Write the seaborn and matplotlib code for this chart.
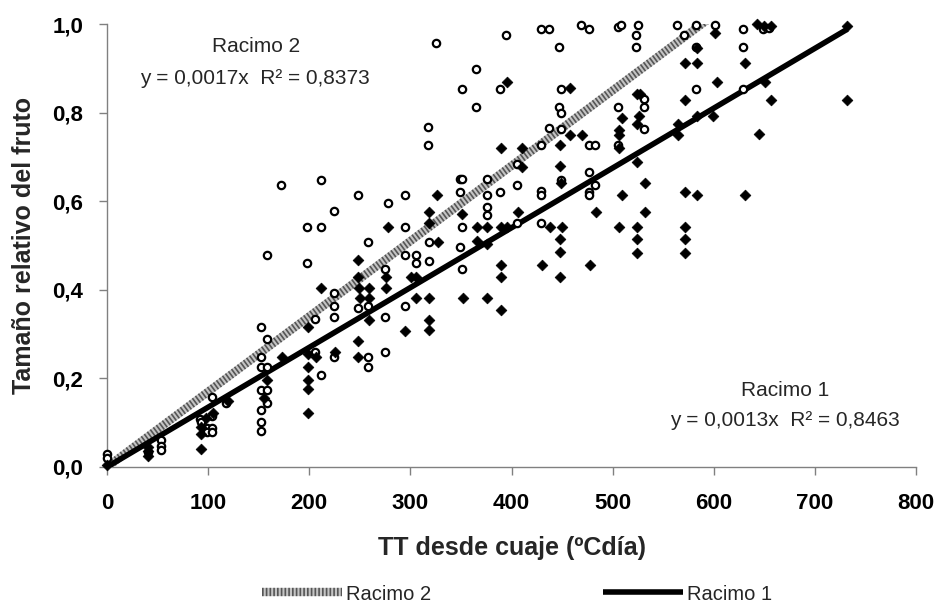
import numpy as np
import pandas as pd
import seaborn as sns
import matplotlib
matplotlib.use("Agg")
import matplotlib.pyplot as plt
from matplotlib.lines import Line2D
from matplotlib.legend_handler import HandlerTuple

# ---------------- data ----------------
# Racimo 2 (open circles)
r2_x = [0, 0,
        41, 53, 53, 53,
        92, 93, 99, 104, 99, 104, 104, 104, 118,
        152, 158, 152, 152, 158, 152, 158, 158, 152, 152, 152, 158,
        172, 212, 224, 198, 212, 198, 224, 224, 224, 206, 206, 224, 212,
        248, 295, 278, 295, 258, 318, 275, 295, 306, 306, 318, 248, 258, 295, 275, 258, 258, 275, 317, 317, 325,
        395, 429, 437, 469, 477, 505, 508, 525, 523, 523, 447, 564, 582, 571, 582, 601, 629, 629,
        365, 351, 389, 365, 449, 447, 449, 437, 449, 429, 477, 483, 505, 505, 531, 531, 531,
        405, 349, 351, 376, 349, 376, 389, 405, 429, 429, 449, 477, 477, 477, 483, 582, 629,
        376, 376, 351, 405, 429, 349, 351,
        649, 655]
r2_y = [0.030, 0.020,
        0.034, 0.061, 0.048, 0.038,
        0.108, 0.102, 0.088, 0.088, 0.078, 0.078, 0.115, 0.157, 0.144,
        0.315, 0.288, 0.248, 0.225, 0.225, 0.174, 0.174, 0.144, 0.128, 0.102, 0.081, 0.478,
        0.636, 0.648, 0.577, 0.541, 0.541, 0.460, 0.392, 0.363, 0.338, 0.333, 0.260, 0.248, 0.208,
        0.613, 0.613, 0.595, 0.541, 0.509, 0.509, 0.446, 0.478, 0.478, 0.460, 0.465, 0.360, 0.364, 0.364, 0.338, 0.248, 0.225, 0.260, 0.767, 0.727, 0.956,
        0.975, 0.988, 0.988, 0.998, 0.988, 0.993, 0.998, 0.998, 0.975, 0.948, 0.947, 0.998, 0.998, 0.975, 0.948, 0.998, 0.988, 0.948,
        0.898, 0.853, 0.853, 0.812, 0.853, 0.812, 0.798, 0.766, 0.764, 0.726, 0.726, 0.726, 0.812, 0.726, 0.830, 0.812, 0.762,
        0.685, 0.649, 0.649, 0.649, 0.621, 0.614, 0.621, 0.637, 0.623, 0.614, 0.648, 0.665, 0.621, 0.614, 0.637, 0.853, 0.853,
        0.586, 0.569, 0.541, 0.550, 0.550, 0.496, 0.446,
        0.988, 0.990]

# Racimo 1 (filled diamonds)
r1_x = [0,
        41, 41, 41,
        105, 93, 93, 93, 98, 120,
        155, 158,
        173,
        199, 199, 207, 199, 199, 199, 199, 225,
        212, 248, 248, 249, 259, 250, 259, 259, 248, 248,
        278, 318, 318, 276, 301, 306, 276, 306, 318, 318, 318, 295,
        583, 572, 583, 601, 631, 643, 396, 458, 458, 470, 390, 410, 448, 506, 506, 506, 509, 524, 527, 526, 524,
        410, 448, 524, 326, 449, 532, 509, 572, 583, 631, 603, 572, 565, 565, 583, 599, 645,
        351, 406, 484, 532, 366, 376, 390, 396, 438, 450, 506, 524, 572, 327, 366, 376, 448, 448, 524, 524, 572, 572,
        390, 390, 430, 478, 448, 352, 376, 390,
        650, 657, 651, 657, 732, 732]
r1_y = [0.005,
        0.046, 0.035, 0.024,
        0.121, 0.091, 0.074, 0.040, 0.110, 0.148,
        0.155, 0.196,
        0.249,
        0.316, 0.256, 0.249, 0.226, 0.196, 0.176, 0.123, 0.260,
        0.403, 0.467, 0.430, 0.403, 0.403, 0.381, 0.381, 0.332, 0.285, 0.249,
        0.541, 0.575, 0.550, 0.430, 0.430, 0.430, 0.403, 0.381, 0.381, 0.332, 0.310, 0.308,
        0.945, 0.913, 0.913, 0.980, 0.913, 1.000, 0.868, 0.855, 0.749, 0.750, 0.721, 0.721, 0.726, 0.720, 0.761, 0.750, 0.788, 0.842, 0.842, 0.792, 0.774,
        0.678, 0.679, 0.689, 0.614, 0.642, 0.642, 0.614, 0.621, 0.614, 0.614, 0.868, 0.828, 0.774, 0.750, 0.793, 0.793, 0.751,
        0.572, 0.575, 0.575, 0.575, 0.542, 0.542, 0.542, 0.542, 0.542, 0.542, 0.542, 0.542, 0.542, 0.507, 0.510, 0.504, 0.515, 0.486, 0.514, 0.484, 0.514, 0.484,
        0.457, 0.430, 0.457, 0.457, 0.430, 0.381, 0.381, 0.354,
        0.995, 0.995, 0.868, 0.828, 0.995, 0.828]

# trend lines (y = slope * x) and their x extents
slope_r2 = 0.0017
slope_r1 = 0.00135
trend_r2_x = [0, 600]
trend_r1_x = [0, 732]

x_ticks = [0, 100, 200, 300, 400, 500, 600, 700, 800]
y_ticks = [0.0, 0.2, 0.4, 0.6, 0.8, 1.0]
y_tick_labels = ["0,0", "0,2", "0,4", "0,6", "0,8", "1,0"]

label_r2 = "Racimo 2"
label_r1 = "Racimo 1"
eq_r2 = "y = 0,0017x  R² = 0,8373"
eq_r1 = "y = 0,0013x  R² = 0,8463"
x_title = "TT desde cuaje (ºCdía)"
y_title = "Tamaño relativo del fruto"

# ---------------- style ----------------
sns.set_style("ticks")
plt.rcParams["font.family"] = ["Liberation Sans", "DejaVu Sans"]

W, H = 940, 603
fig = plt.figure(figsize=(W / 100, H / 100), dpi=100)
ax_left, ax_right, ax_top, ax_bottom = 107, 916, 24, 467
ax = fig.add_axes([ax_left / W, 1 - ax_bottom / H,
                   (ax_right - ax_left) / W, (ax_bottom - ax_top) / H])

df_r2 = pd.DataFrame({"x": r2_x, "y": r2_y})
df_r1 = pd.DataFrame({"x": r1_x, "y": r1_y})
t_r2 = pd.DataFrame({"x": trend_r2_x, "y": slope_r2 * np.array(trend_r2_x)})
t_r1 = pd.DataFrame({"x": trend_r1_x, "y": slope_r1 * np.array(trend_r1_x)})

HATCH_BASE = "#c4c4c4"
HATCH_DASH = "#555555"

# scatter points
sns.scatterplot(data=df_r2, x="x", y="y", marker="o", s=28, color="white",
                edgecolor="black", linewidth=1.6, ax=ax, clip_on=False, zorder=4)
sns.scatterplot(data=df_r1, x="x", y="y", marker="D", s=30, color="black",
                edgecolor="black", linewidth=0.5, ax=ax, clip_on=False, zorder=4)

# trend lines
sns.lineplot(data=t_r2, x="x", y="y", color=HATCH_BASE, linewidth=6,
             solid_capstyle="butt", ax=ax, zorder=3)
ax.plot(t_r2["x"], t_r2["y"], color=HATCH_DASH, linewidth=6,
        dashes=(0.2, 0.25), dash_capstyle="butt", zorder=3.1)
sns.lineplot(data=t_r1, x="x", y="y", color="black", linewidth=4,
             solid_capstyle="butt", ax=ax, zorder=3.2)

# axes
ax.set_xlim(0, 800)
ax.set_ylim(0, 1.0)
ax.set_xticks(x_ticks)
ax.set_xticklabels([str(t) for t in x_ticks])
ax.set_yticks(y_ticks)
ax.set_yticklabels(y_tick_labels)
for side in ["top", "right"]:
    ax.spines[side].set_visible(False)
for side in ["left", "bottom"]:
    ax.spines[side].set_color("#808080")
    ax.spines[side].set_linewidth(1.0)
ax.tick_params(axis="both", direction="out", length=6, width=1.0,
               color="#808080", labelsize=16, pad=11, labelcolor="black")
ax.tick_params(axis="x", pad=13)
for lab in ax.get_xticklabels() + ax.get_yticklabels():
    lab.set_fontweight("bold")

ax.set_xlabel(x_title, fontsize=18, fontweight="bold")
ax.set_ylabel(y_title, fontsize=18, fontweight="bold")
ax.xaxis.set_label_coords(0.5, (ax_bottom - 548) / (ax_bottom - ax_top))
ax.xaxis.label.set_va("center")
ax.yaxis.set_label_coords((24 - ax_left) / (ax_right - ax_left), 0.5)
ax.yaxis.label.set_va("center")

# annotations
fig.text(256 / W, 1 - 47 / H, label_r2, ha="center", va="center", fontsize=15)
fig.text(255 / W, 1 - 78 / H, eq_r2, ha="center", va="center", fontsize=15)
fig.text(785 / W, 1 - 390 / H, label_r1, ha="center", va="center", fontsize=15)
fig.text(785 / W, 1 - 420 / H, eq_r1, ha="center", va="center", fontsize=15)

# legend
h2a = Line2D([], [], color=HATCH_BASE, linewidth=6, solid_capstyle="butt")
h2b = Line2D([], [], color=HATCH_DASH, linewidth=6, dashes=(0.2, 0.25),
             dash_capstyle="butt")
h1 = Line2D([], [], color="black", linewidth=4, solid_capstyle="butt")
fig.legend([(h2a, h2b), h1], [label_r2, label_r1], ncol=2, loc="center",
           bbox_to_anchor=(517 / W, 1 - 594 / H), frameon=False,
           handlelength=4.0, handletextpad=0.2, columnspacing=8.5,
           fontsize=14.5,
           handler_map={tuple: HandlerTuple(ndivide=1, pad=0)})

fig.savefig("out.png", dpi=100)
